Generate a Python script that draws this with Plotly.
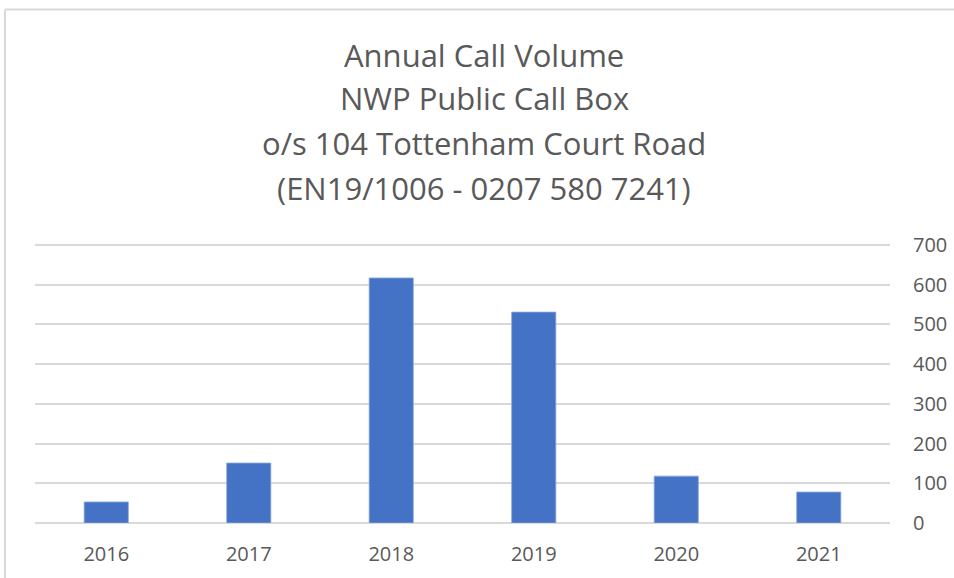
import plotly.graph_objects as go

years = ["2016", "2017", "2018", "2019", "2020", "2021"]
calls = [53, 151, 617, 531, 118, 78]
title_lines = [
    "Annual Call Volume",
    "NWP Public Call Box",
    "o/s 104 Tottenham Court Road",
    "(EN19/1006 - 0207 580 7241)",
]
y_ticks = [0, 100, 200, 300, 400, 500, 600, 700]

W, H = 954, 578
ML, MR, MT, MB = 35, 64, 243, 55

fig = go.Figure()
fig.add_trace(go.Bar(
    x=years, y=calls, width=0.31,
    marker=dict(color="#4472C4", line=dict(color="#8EA9DB", width=0.8)),
))

pw = W - ML - MR
ph = H - MT - MB
def px(x):
    return (x - ML) / pw
def py(y):
    return 1 - (y - MT) / ph

annotations = []
line_y = [54.5, 98.5, 142.5, 187.5]
for txt, yc in zip(title_lines, line_y):
    annotations.append(dict(
        text=txt, xref="paper", yref="paper",
        x=px(484), y=py(yc),
        xanchor="center", yanchor="middle", showarrow=False,
        font=dict(family="Open Sans", size=31, color="#595959"),
    ))

shapes = [
    dict(type="line", xref="paper", yref="paper", x0=px(5), x1=px(954), y0=py(9.5), y1=py(9.5),
         line=dict(color="#d9d9d9", width=2)),
    dict(type="line", xref="paper", yref="paper", x0=px(5), x1=px(5), y0=py(9.5), y1=py(578),
         line=dict(color="#d9d9d9", width=2)),
]

fig.update_layout(
    width=W, height=H,
    margin=dict(l=ML, r=MR, t=MT, b=MB, autoexpand=False),
    paper_bgcolor="white", plot_bgcolor="white",
    showlegend=False,
    annotations=annotations,
    shapes=shapes,
    font=dict(family="Open Sans", color="#595959"),
    xaxis=dict(
        type="category", showgrid=False, showline=False, zeroline=False, automargin=False,
        tickfont=dict(size=20, color="#595959"), ticks="", ticklabelstandoff=17,
    ),
    yaxis=dict(
        side="right", range=[0, 705], tickvals=y_ticks, automargin=False,
        showgrid=True, gridcolor="#d9d9d9", gridwidth=1.5,
        zeroline=True, zerolinecolor="#d9d9d9", zerolinewidth=1.5,
        showline=False, ticks="",
        tickfont=dict(size=20, color="#595959"), ticklabelstandoff=22,
    ),
)

fig.write_html("out.html", config={"displayModeBar": False},
               post_script="document.body.style.margin='0';")
